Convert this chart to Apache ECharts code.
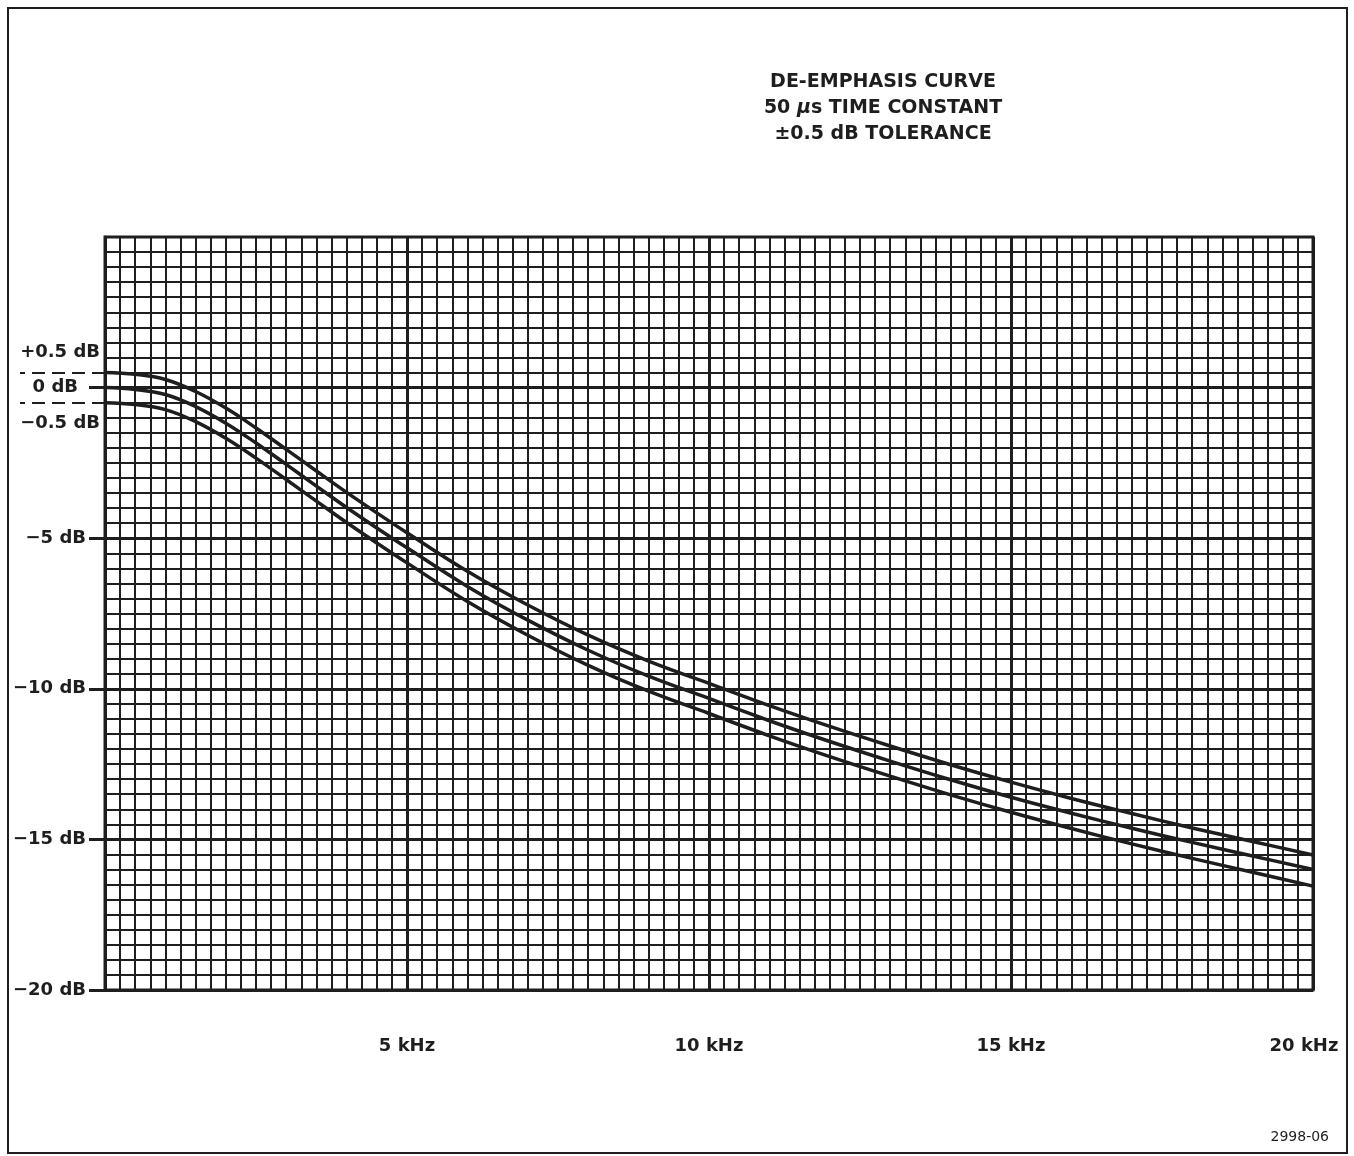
<!DOCTYPE html>
<html>
<head>
<meta charset="utf-8">
<title>De-emphasis curve</title>
<script src="https://cdn.jsdelivr.net/npm/echarts@6.0.0/dist/echarts.min.js"></script>
<style>
  html, body { margin: 0; padding: 0; background: #fff; }
  #frame {
    position: absolute; left: 7px; top: 7px;
    width: 1341px; height: 1147px;
    border: 2.5px solid #1e1e1e; box-sizing: border-box;
  }
  #chart { position: absolute; left: 0; top: 0; width: 1354px; height: 1156px; }
</style>
</head>
<body>
<div id="frame"></div>
<div id="chart"></div>
<script>
// frequency in kHz, levels in dB
const freqKHz   = [0, 0.5, 1, 1.5, 2, 2.5, 3, 3.5, 4, 4.5, 5, 6, 7, 8, 9, 10, 11, 12, 13, 14, 15, 16, 17, 18, 19, 20];
const upperDb   = [0.5, 0.44, 0.27, -0.13, -0.68, -1.34, -2.05, -2.77, -3.48, -4.16, -4.82, -6.1, -7.22, -8.22, -9.08, -9.82, -10.56, -11.25, -11.9, -12.52, -13.1, -13.64, -14.14, -14.62, -15.07, -15.52];
const nominalDb = [0, -0.06, -0.23, -0.63, -1.18, -1.84, -2.55, -3.27, -3.98, -4.66, -5.32, -6.6, -7.72, -8.72, -9.58, -10.32, -11.06, -11.75, -12.4, -13.02, -13.6, -14.13, -14.63, -15.1, -15.55, -16.0];
const lowerDb   = [-0.5, -0.56, -0.73, -1.13, -1.68, -2.34, -3.05, -3.77, -4.48, -5.16, -5.82, -7.1, -8.22, -9.22, -10.08, -10.82, -11.56, -12.25, -12.9, -13.52, -14.1, -14.64, -15.15, -15.63, -16.09, -16.55];

// tick labels
const xLabelValues = [5, 10, 15, 20];
const yLabelValues = [-20, -15, -10, -5, 0];
const tolValues = [0.5, -0.5];

const ink = '#1e1e1e';
const font = 'DejaVu Sans';
const labelFont = { fontFamily: font, fontSize: 18, fontWeight: 'bold', color: ink };

const toPairs = arr => freqKHz.map((f, i) => [f, arr[i]]);
const fmtDb = v => (v > 0 ? '+' : v < 0 ? '\u2212' : '') + Math.abs(v) + ' dB';

const curve = (name, values) => ({
  name: name,
  type: 'line',
  data: toPairs(values),
  smooth: 0.4,
  symbol: 'none',
  lineStyle: { color: ink, width: 3.5 },
  z: 5
});

const chart = echarts.init(document.getElementById('chart'));

const option = {
  animation: false,
  backgroundColor: 'transparent',
  title: [
    {
      text: 'DE-EMPHASIS CURVE\n50 {mu|\u00b5}s TIME CONSTANT\n\u00b10.5 dB TOLERANCE',
      left: 878,
      top: 64,
      textAlign: 'center',
      textStyle: {
        fontFamily: font, fontSize: 19, fontWeight: 'bold', color: ink, lineHeight: 26,
        rich: {
          mu: { fontFamily: font, fontSize: 19, fontWeight: 'bold', fontStyle: 'italic', color: ink, lineHeight: 26 }
        }
      }
    },
    {
      text: '2998-06',
      right: 20,
      bottom: 7,
      textStyle: { fontFamily: font, fontSize: 14, fontWeight: 'normal', color: ink }
    }
  ],
  grid: {
    left: 105, right: 41, top: 237, bottom: 166,
    show: true, borderColor: ink, borderWidth: 3
  },
  xAxis: {
    type: 'value',
    min: 0, max: 20, interval: 5,
    axisLine: { lineStyle: { color: ink, width: 3 } },
    axisTick: { length: 15, lineStyle: { color: ink, width: 3 } },
    axisLabel: Object.assign({}, labelFont, {
      customValues: xLabelValues,
      margin: 47,
      formatter: v => v === 20 ? '{r|20 kHz}' : v + ' kHz',
      rich: { r: Object.assign({}, labelFont, { padding: [0, 18, 0, 0] }) }
    }),
    splitLine: { lineStyle: { color: ink, width: 3 } },
    minorTick: { show: false, splitNumber: 20 },
    minorSplitLine: { show: true, lineStyle: { color: ink, width: 2 } }
  },
  yAxis: [
    {
      type: 'value',
      min: -20, max: 5, interval: 5,
      axisLine: { show: true, lineStyle: { color: ink, width: 3 } },
      axisTick: { show: true, customValues: yLabelValues, length: 16, lineStyle: { color: ink, width: 3 } },
      axisLabel: Object.assign({}, labelFont, {
        customValues: yLabelValues,
        margin: 19,
        formatter: v => v === 0 ? '{z|0 dB}' : fmtDb(v),
        rich: { z: Object.assign({}, labelFont, { padding: [0, 8, 0, 0] }) }
      }),
      splitLine: { lineStyle: { color: ink, width: 3 } },
      minorTick: { show: false, splitNumber: 10 },
      minorSplitLine: { show: true, lineStyle: { color: ink, width: 2 } }
    },
    {
      // tolerance marks +/-0.5 dB with dashed leaders
      type: 'value',
      min: -20, max: 5,
      position: 'left',
      axisLine: { show: false },
      splitLine: { show: false },
      axisTick: { show: true, customValues: tolValues, length: 85, lineStyle: { color: ink, width: 2, type: [13, 7] } },
      axisLabel: Object.assign({}, labelFont, {
        customValues: tolValues,
        margin: 5,
        formatter: v => (v > 0 ? '{up|' : '{dn|') + fmtDb(v) + '}',
        rich: {
          up: Object.assign({}, labelFont, { padding: [0, 0, 40, 0] }),
          dn: Object.assign({}, labelFont, { padding: [42, 0, 0, 0] })
        }
      })
    }
  ],
  series: [
    curve('+0.5 dB', upperDb),
    curve('nominal', nominalDb),
    curve('-0.5 dB', lowerDb)
  ]
};

chart.setOption(option);
</script>
</body>
</html>
